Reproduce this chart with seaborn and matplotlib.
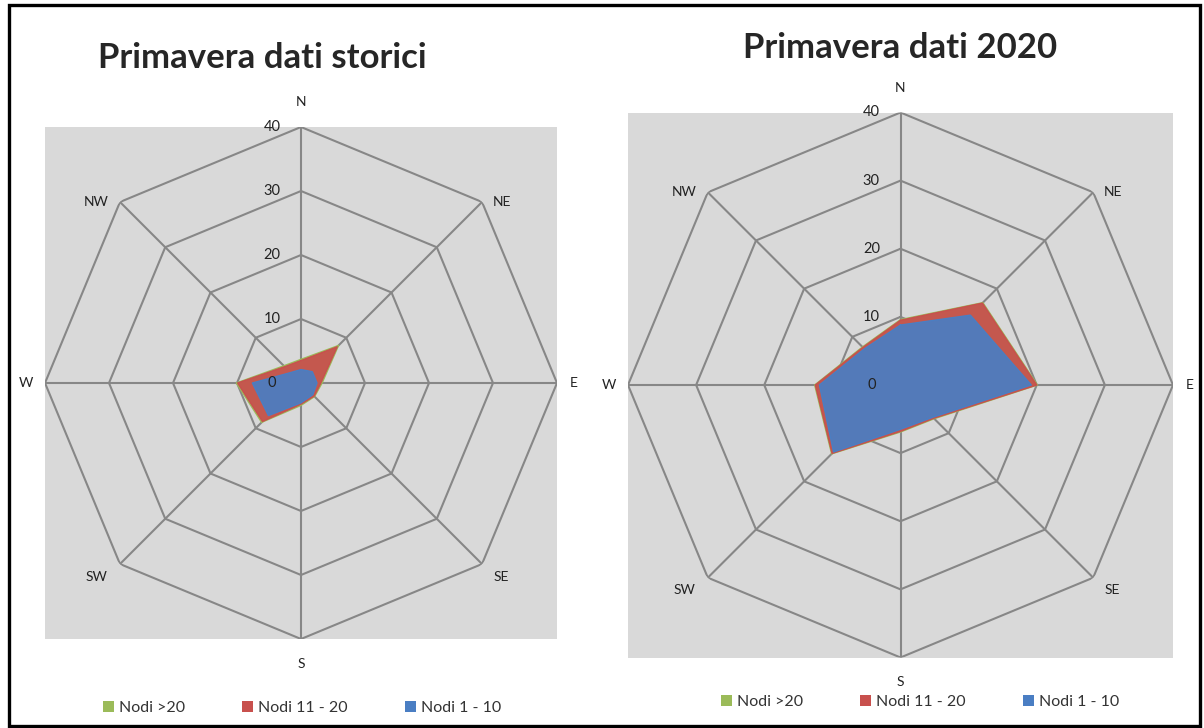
import numpy as np
import matplotlib
matplotlib.use("Agg")
import matplotlib.pyplot as plt
from matplotlib.patches import Patch, Rectangle
import seaborn as sns

# Direzioni del vento e classi di velocità
directions = ["N", "NE", "E", "SE", "S", "SW", "W", "NW"]
series_names = ["Nodi >20", "Nodi 11 - 20", "Nodi 1 - 10"]
series_colors = ["#9bbb59", "#c8504d", "#4a7ec3"]
radial_ticks = [0, 10, 20, 30, 40]

# Primavera dati storici
storici_gt20 = [3.7, 8.3, 3.3, 3.0, 3.5, 8.7, 10.1, 3.8]
storici_11_20 = [3.5, 8.0, 3.1, 2.9, 3.3, 8.5, 9.9, 3.6]
storici_1_10 = [2.1, 2.5, 2.5, 2.6, 3.1, 7.2, 7.6, 2.3]

# Primavera dati 2020
dati2020_gt20 = [9.6, 17.1, 20.1, 7.0, 6.9, 14.3, 12.6, 7.9]
dati2020_11_20 = [9.5, 17.0, 20.0, 6.9, 6.8, 14.2, 12.5, 7.8]
dati2020_1_10 = [8.8, 14.5, 19.2, 6.7, 6.5, 13.9, 11.9, 7.5]

sns.set_style("white")
plt.rcParams["font.family"] = ["Lato", "DejaVu Sans"]

W, H = 1204, 728
grid_color = "#878787"
bg_color = "#d9d9d9"

# spostamento (in punti) delle etichette di direzione rispetto al vertice esterno
label_offsets = {
    "N": (0, 18), "NE": (14, 0), "E": (12, 0), "SE": (14, -9),
    "S": (0, -18), "SW": (-17, -9), "W": (-14, 0), "NW": (-17, 0),
}


def box(x0, y_top, size):
    # pixel box -> figure fraction
    return [x0 / W, 1 - (y_top + size) / H, size / W, size / H]


def draw_radar(fig, rect, series):
    fig.add_artist(Rectangle((rect[0], rect[1]), rect[2], rect[3],
                             transform=fig.transFigure, fc=bg_color,
                             ec="none", zorder=-1))
    ax = fig.add_axes(rect, projection="polar")
    ax.set_facecolor("none")
    ax.set_theta_zero_location("N")
    ax.set_theta_direction(-1)

    theta = np.deg2rad(np.arange(len(directions)) * 360 / len(directions))
    theta_closed = np.append(theta, theta[0] + 2 * np.pi)
    r_max = radial_ticks[-1]

    # griglia ottagonale
    for r in radial_ticks[1:]:
        ax.plot(theta_closed, [r] * len(theta_closed), color=grid_color,
                lw=1.5, zorder=1)
    for t in theta:
        ax.plot([t, t], [0, r_max], color=grid_color, lw=1.5, zorder=1)

    # serie (la prima sotto, l'ultima sopra)
    for i, (vals, color) in enumerate(zip(series, series_colors)):
        r = np.append(vals, vals[0])
        ax.fill(theta_closed, r, color=color, lw=0, alpha=0.92, zorder=2 + i)
        sns.lineplot(x=theta_closed, y=r, ax=ax, sort=False, estimator=None,
                     color=color, lw=1.0, zorder=2 + i)

    for r in radial_ticks:
        ax.annotate(str(r), (0, r), xytext=(-21, 0), textcoords="offset points",
                    ha="center", va="center", fontsize=10.5, color="#222222",
                    zorder=10)

    for t, name in zip(theta, directions):
        ax.annotate(name, (t, r_max), xytext=label_offsets[name],
                    textcoords="offset points", ha="center", va="center",
                    fontsize=10, color="#222222", annotation_clip=False)

    ax.grid(False)
    ax.spines["polar"].set_visible(False)
    ax.set_ylim(0, r_max)
    ax.set_yticks([])
    ax.set_xticks([])
    ax.set_xlabel("")
    ax.set_ylabel("")
    return ax


fig = plt.figure(figsize=(W / 100, H / 100), dpi=100)

draw_radar(fig, box(45, 127, 512), [storici_gt20, storici_11_20, storici_1_10])
draw_radar(fig, box(628, 112.5, 545), [dati2020_gt20, dati2020_11_20, dati2020_1_10])

fig.text(262 / W, 1 - 58 / H, "Primavera dati storici", ha="center",
         va="center", fontsize=25, fontweight="bold")
fig.text(900 / W, 1 - 48 / H, "Primavera dati 2020", ha="center",
         va="center", fontsize=25, fontweight="bold")

handles = [Patch(facecolor=c, edgecolor="none") for c in series_colors]
for cx, cy in [(302, 708), (920, 702)]:
    fig.legend(handles, series_names, loc="center",
               bbox_to_anchor=(cx / W, 1 - cy / H), ncol=3, frameon=False,
               handlelength=0.7, handleheight=0.7, handletextpad=0.3,
               columnspacing=3.6, fontsize=11.5, labelcolor="#333333")

# cornice nera
fig.add_artist(Rectangle((9 / W, 2 / H), 1191 / W, 721 / H,
                         transform=fig.transFigure, fill=False, ec="black",
                         lw=2.4, zorder=20))

fig.savefig("out.png", dpi=100)
plt.close(fig)
